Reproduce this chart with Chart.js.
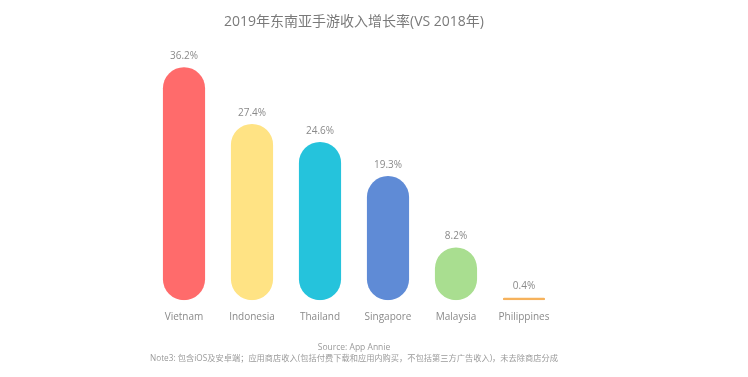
<!DOCTYPE html>
<html>
<head>
<meta charset="utf-8">
<script src="https://cdn.jsdelivr.net/npm/chart.js@4"></script>
<style>
  html, body { margin: 0; padding: 0; background: #fff; }
  #wrap { width: 748px; height: 377px; }
</style>
</head>
<body>
<div id="wrap"><canvas id="growth-chart"></canvas></div>
<script>
const countries = ["Vietnam", "Indonesia", "Thailand", "Singapore", "Malaysia", "Philippines"];
const growthRate = [36.2, 27.4, 24.6, 19.3, 8.2, 0.4];
const barColors = ["#ff6b6b", "#ffe384", "#25c3dc", "#5f8bd6", "#a9de90", "#f6b25c"];
const titleText = "2019年东南亚手游收入增长率(VS 2018年)";
const footLines = ["Source: App Annie", "Note3: 包含iOS及安卓端；应用商店收入(包括付费下载和应用内购买，不包括第三方广告收入)，未去除商店分成"];

const fontFamily = "'Open Sans', 'Noto Sans CJK SC', sans-serif";

// value labels above each bar
const valueLabels = {
  id: "valueLabels",
  afterDatasetsDraw(chart) {
    const ctx = chart.ctx;
    const meta = chart.getDatasetMeta(0);
    ctx.save();
    ctx.font = "10px " + fontFamily;
    ctx.fillStyle = "#8a8a8a";
    ctx.textAlign = "center";
    ctx.textBaseline = "bottom";
    meta.data.forEach((bar, i) => {
      ctx.fillText(growthRate[i].toFixed(1) + "%", bar.x, bar.y - 6);
    });
    ctx.restore();
  },
};

const ctx = document.getElementById("growth-chart").getContext("2d");

new Chart(ctx, {
  type: "bar",
  data: {
    labels: countries,
    datasets: [
      {
        data: growthRate,
        backgroundColor: barColors,
        borderRadius: 21,
        borderSkipped: false,
        barPercentage: 0.62,
        categoryPercentage: 1,
      },
    ],
  },
  options: {
    responsive: true,
    maintainAspectRatio: false,
    animation: false,
    layout: {
      padding: { left: 150, right: 190, top: 8, bottom: 12 },
    },
    plugins: {
      legend: { display: false },
      tooltip: { enabled: false },
      title: {
        display: true,
        text: titleText,
        color: "#7a7a7a",
        font: { size: 14, family: fontFamily, weight: "normal" },
        padding: { top: 6, bottom: 12 },
      },
      subtitle: {
        display: true,
        position: "bottom",
        text: footLines,
        color: "#9a9a9a",
        font: { size: 8.5, family: fontFamily, weight: "normal", lineHeight: 1.4 },
        padding: { top: 7, bottom: 0 },
      },
    },
    scales: {
      y: {
        display: false,
        min: 0,
        max: 40,
      },
      x: {
        grid: { display: false, drawTicks: false },
        border: { display: false },
        ticks: {
          color: "#8a8a8a",
          padding: 11,
          font: { size: 10, family: fontFamily },
        },
      },
    },
  },
  plugins: [valueLabels],
});
</script>
</body>
</html>
